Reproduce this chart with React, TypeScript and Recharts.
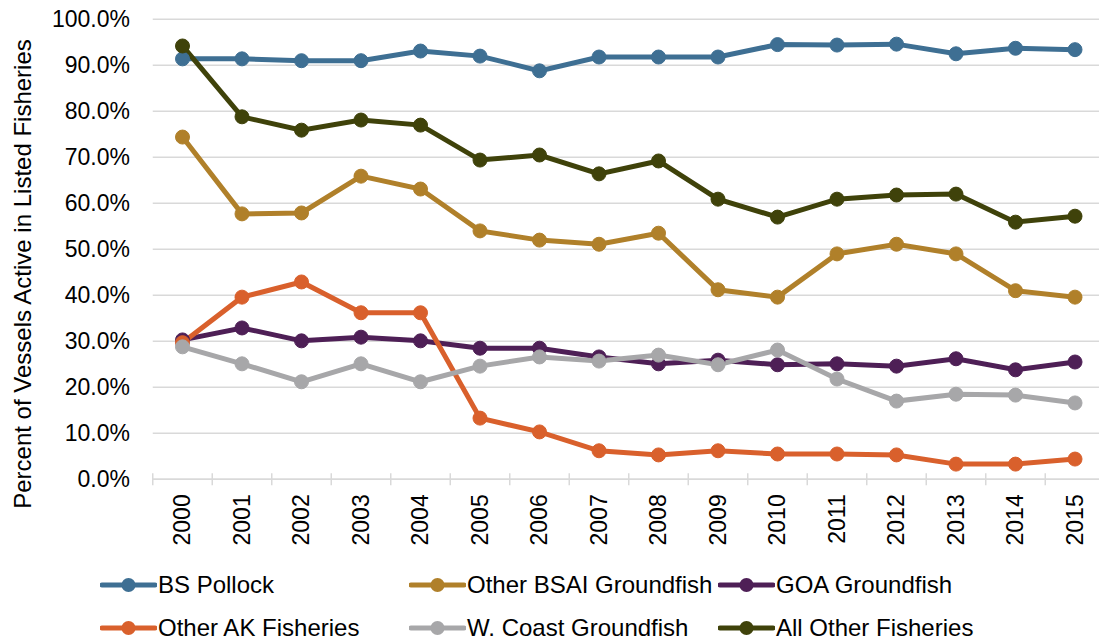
import React from "react";
import { LineChart, Line, XAxis, YAxis, CartesianGrid } from "recharts";

const years = ["2000","2001","2002","2003","2004","2005","2006","2007","2008","2009","2010","2011","2012","2013","2014","2015"];
const bsPollock = [91.4, 91.4, 91.0, 91.0, 93.1, 92.0, 88.8, 91.8, 91.8, 91.8, 94.5, 94.4, 94.6, 92.5, 93.7, 93.4];
const otherBsai = [74.4, 57.7, 57.9, 65.9, 63.1, 54.0, 52.0, 51.1, 53.5, 41.2, 39.6, 49.0, 51.1, 49.0, 41.0, 39.6];
const goa = [30.3, 32.9, 30.1, 30.9, 30.1, 28.5, 28.5, 26.6, 25.1, 25.9, 24.9, 25.1, 24.6, 26.2, 23.8, 25.5];
const otherAk = [29.7, 39.6, 42.9, 36.2, 36.2, 13.3, 10.3, 6.2, 5.3, 6.2, 5.5, 5.5, 5.3, 3.3, 3.3, 4.4];
const wCoast = [28.8, 25.1, 21.2, 25.1, 21.2, 24.6, 26.6, 25.7, 27.0, 24.9, 28.1, 21.8, 17.0, 18.5, 18.3, 16.6];
const allOther = [94.2, 78.8, 75.9, 78.1, 77.0, 69.4, 70.5, 66.4, 69.2, 60.9, 57.0, 60.9, 61.8, 62.0, 55.9, 57.2];
const yTicks = [0, 10, 20, 30, 40, 50, 60, 70, 80, 90, 100];

const seriesNames = ["BS Pollock", "Other BSAI Groundfish", "GOA Groundfish", "Other AK Fisheries", "W. Coast Groundfish", "All Other Fisheries"];
const seriesValues = [bsPollock, otherBsai, goa, otherAk, wCoast, allOther];
const seriesColors = ["#3E6F93", "#B0802A", "#4E1F56", "#D9602C", "#A7A7A9", "#3F420A"];

const data = years.map((y, i) => {
  const row: Record<string, string | number> = { year: y };
  seriesNames.forEach((n, k) => { row[n] = seriesValues[k][i]; });
  return row;
});

const FONT = "'Liberation Sans', Arial, sans-serif";
const HALF_BAND = 29.75;

const XTick = (props: any) => {
  const { x, y, payload, index } = props;
  const axisY = y - 8;
  return (
    <g>
      <line x1={x - HALF_BAND} x2={x - HALF_BAND} y1={axisY - 6} y2={axisY + 6} stroke="#D9D9D9" strokeWidth={1.5} />
      {index === years.length - 1 && (
        <line x1={x + HALF_BAND} x2={x + HALF_BAND} y1={axisY - 6} y2={axisY + 6} stroke="#D9D9D9" strokeWidth={1.5} />
      )}
      <text
        x={x}
        y={y + 7}
        transform={`rotate(-90 ${x} ${y + 7})`}
        textAnchor="end"
        dominantBaseline="central"
        fontSize={23}
        fontFamily={FONT}
        fill="#000"
      >
        {payload.value}
      </text>
    </g>
  );
};

const legendCols = [100, 409, 718];
const legendRows = [585, 628];

export default function App() {
  return (
    <div style={{ position: "absolute", left: 0, top: 0, width: 1099, height: 640, overflow: "hidden", background: "#fff" }}>
      <LineChart
        width={1110}
        height={640}
        data={data}
        margin={{ top: 19.3, right: 5.25, left: 0, bottom: 100.7 }}
      >
        <CartesianGrid vertical={false} stroke="#D9D9D9" strokeWidth={1.5} />
        <XAxis
          dataKey="year"
          interval={0}
          height={60}
          padding={{ left: HALF_BAND, right: HALF_BAND }}
          tick={<XTick />}
          tickLine={false}
          axisLine={{ stroke: "#D9D9D9", strokeWidth: 1.5 }}
        />
        <YAxis
          width={152.75}
          domain={[0, 100]}
          ticks={yTicks}
          tickFormatter={(v: number) => v.toFixed(1) + "%"}
          axisLine={false}
          tickLine={false}
          tickSize={6}
          tickMargin={16.75}
          tick={{ fontSize: 23, fontFamily: FONT, fill: "#000" }}
          label={{
            content: () => (
              <text
                x={22}
                y={274}
                transform="rotate(-90 22 274)"
                textAnchor="middle"
                dominantBaseline="central"
                fontSize={24}
                fontFamily={FONT}
                fill="#000"
              >
                Percent of Vessels Active in Listed Fisheries
              </text>
            ),
          }}
        />
        {seriesNames.map((n, k) => (
          <Line
            key={n}
            dataKey={n}
            type="linear"
            stroke={seriesColors[k]}
            strokeWidth={5}
            dot={{ r: 7, fill: seriesColors[k], stroke: seriesColors[k], strokeWidth: 1 }}
            activeDot={false}
            isAnimationActive={false}
          />
        ))}
      </LineChart>
      {seriesNames.map((n, k) => {
        const left = legendCols[k % 3];
        const top = legendRows[Math.floor(k / 3)];
        return (
          <div
            key={n}
            style={{
              position: "absolute",
              left,
              top: top - 15,
              height: 30,
              display: "flex",
              alignItems: "center",
              fontFamily: FONT,
              fontSize: 24,
              color: "#000",
              whiteSpace: "nowrap",
            }}
          >
            <svg width={57} height={30} style={{ display: "block" }}>
              <line x1={2} x2={55} y1={15} y2={15} stroke={seriesColors[k]} strokeWidth={5} strokeLinecap="round" />
              <circle cx={28.5} cy={15} r={7} fill={seriesColors[k]} />
            </svg>
            <span style={{ marginLeft: 1 }}>{n}</span>
          </div>
        );
      })}
    </div>
  );
}
